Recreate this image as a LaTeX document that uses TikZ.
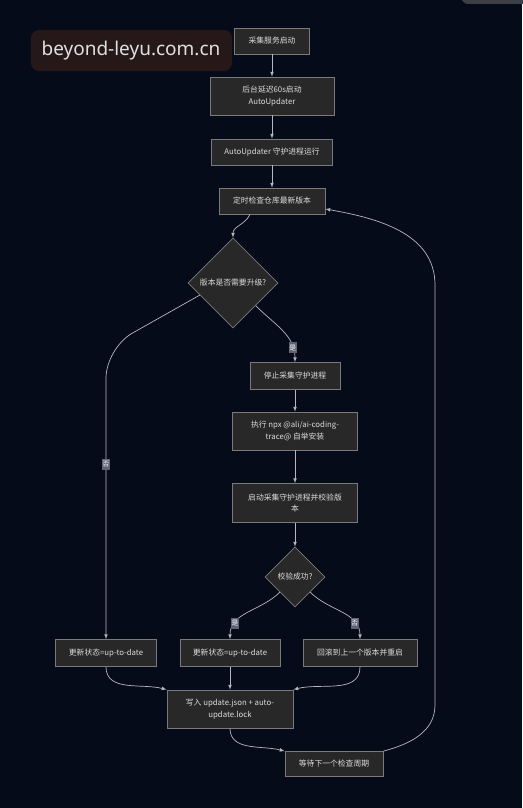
\documentclass[tikz,border=0pt]{standalone}
\usepackage{fontspec}
\newfontfamily\cjk{Noto Sans CJK SC}
\newfontfamily\wmfont{Noto Sans}
\usetikzlibrary{shapes.geometric}
\definecolor{bgnavy}{HTML}{060B19}
\definecolor{boxfill}{HTML}{282828}
\definecolor{boxline}{HTML}{7A7A7A}
\definecolor{boxtext}{HTML}{DDDDDD}
\definecolor{edgegrey}{HTML}{B4B8C0}
\definecolor{lblgrey}{HTML}{5E6474}
\definecolor{wmback}{HTML}{261719}
\tikzset{
  box/.style={draw=boxline, fill=boxfill, text=boxtext, line width=.7, align=center,
    font=\cjk\fontsize{7.8}{11.5}\selectfont, inner sep=2pt, minimum height=26},
  decision/.style={diamond, aspect=1, draw=boxline, fill=boxfill, text=boxtext, line width=.7,
    font=\cjk\fontsize{7.8}{11.5}\selectfont, inner sep=0pt},
  flow/.style={->, draw=edgegrey, line width=.7},
  lbl/.style={sharp corners, fill=lblgrey, text=white, font=\cjk\fontsize{6.8}{8}\selectfont,
    inner xsep=.8pt, inner ysep=2.5pt}
}
\begin{document}
\begin{tikzpicture}[x=1pt, y=1pt, >=latex]
\fill[bgnavy] (0,0) rectangle (522,-808);
\useasboundingbox (0,0) rectangle (522,-808);
% overlays
\fill[gray!45!bgnavy, rounded corners=6] (462,4) rectangle (540,-4);
\fill[wmback, rounded corners=8] (31,-30) rectangle (232,-71);
\node[text=white!88!black, font=\wmfont\fontsize{19}{22}\selectfont] (wm) at (131,-51) {beyond-leyu.com.cn};

% steps
\node[box, minimum width=75] (start) at (272,-41) {采集服务启动};
\node[box, minimum width=124, minimum height=38] (delay) at (272,-96) {后台延迟60s启动\\AutoUpdater};
\node[box, minimum width=121] (daemon) at (272,-152) {AutoUpdater 守护进程运行};
\node[box, minimum width=106] (check) at (272,-201) {定时检查仓库最新版本};
\node[decision, minimum size=90] (need) at (233,-283) {版本是否需要升级?};
\node[box, minimum width=90, minimum height=27] (stop) at (295,-376) {停止采集守护进程};
\node[box, minimum width=125, minimum height=38] (npx) at (295,-431) {执行 npx @ali/ai-coding-\\trace@ 自举安装};
\node[box, minimum width=125, minimum height=39] (restart) at (295,-503) {启动采集守护进程并校验版\\本};
\node[decision, minimum size=60] (ok) at (295,-577) {校验成功?};
\node[box, minimum width=101, minimum height=27] (uplft) at (106,-653) {更新状态=up-to-date};
\node[box, minimum width=100, minimum height=27] (upmid) at (230,-653) {更新状态=up-to-date};
\node[box, minimum width=114, minimum height=27] (back) at (360,-653) {回滚到上一个版本并重启};
\node[box, minimum width=126, minimum height=38] (write) at (230,-709) {写入 update.json + auto-\\update.lock};
\node[box, minimum width=98, minimum height=25] (wait) at (334,-764) {等待下一个检查周期};

% connectors
\draw[flow] (start) -- (delay);
\draw[flow] (delay) -- (daemon);
\draw[flow] (daemon) -- (check);
\draw[flow] ([xshift=-22]check.south) to[out=-115, in=90] (need.north);
\draw[flow] (need.south east) to[out=-45, in=90] node[lbl, pos=.8]{是} (stop.north);
\draw[flow, rounded corners=30] (need.200) -- (106,-348) -- node[lbl, pos=.4]{否} (uplft.north);
\draw[flow] (stop) -- (npx);
\draw[flow] (npx) -- (restart);
\draw[flow] (restart) -- (ok);
\draw[flow] (ok.south west) to[out=-135, in=90] node[lbl, pos=.75]{是} (upmid.north);
\draw[flow] (ok.south east) to[out=-45, in=90] node[lbl, pos=.75]{否} (back.north);
\draw[flow] (uplft.south) to[out=-90, in=165] (write.north west);
\draw[flow] (upmid) -- (write);
\draw[flow] (back.south) to[out=-90, in=15] (write.north east);
\draw[flow] (write.south) to[out=-90, in=165] (wait.north west);
\draw[flow] (wait.north east) to[out=15, in=-90] (435,-705) -- (435,-285)
  to[out=90, in=-10] ([yshift=-8]check.east);

    \end{tikzpicture}
\end{document}
